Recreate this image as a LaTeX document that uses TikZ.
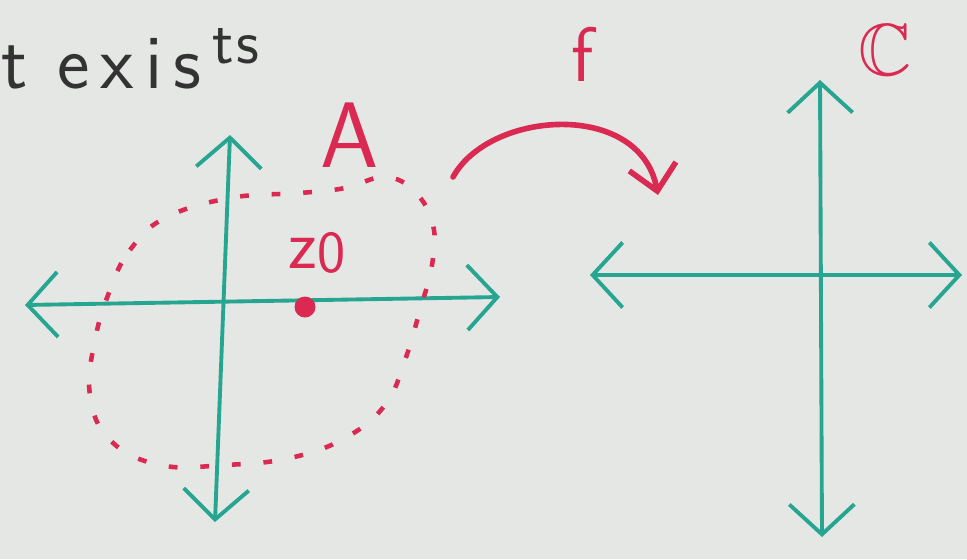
\documentclass[tikz,border=0pt]{standalone}
\usepackage{amssymb}
\usetikzlibrary{arrows.meta}
\definecolor{lavagna}{RGB}{229,231,229}
\definecolor{verdeasse}{RGB}{38,165,145}
\definecolor{rossoped}{RGB}{218,42,82}
\newcommand{\spaz}{\kern0.22cm}

\begin{document}
\begin{tikzpicture}[
  x=0.02cm, y=-0.02cm,
  font=\sffamily,
  asse/.style={draw=verdeasse, line width=2.2pt,
               {Straight Barb[length=0.6cm,width=1.3cm]}-{Straight Barb[length=0.6cm,width=1.3cm]}},
  scritta/.style={inner sep=0pt, text=black!80},
  rossa/.style={inner sep=0pt, text=rossoped},
  tratteggio/.style={draw=rossoped, line width=2.6pt, dash pattern=on 5pt off 13pt},
  freccia/.style={draw=rossoped, line width=3.2pt, line cap=round,
                  -{Straight Barb[length=0.5cm,width=0.95cm]}},
  punto/.style={circle, fill=rossoped, inner sep=0pt, minimum size=0.42cm}
]

%--------------------------------------------------------------
% Sfondo
%--------------------------------------------------------------
\fill[lavagna] (0,0) rectangle (967,559);
\useasboundingbox (0,0) rectangle (967,559);

%--------------------------------------------------------------
% Scritta in alto
%--------------------------------------------------------------
\node[scritta, anchor=base west, font=\sffamily\fontsize{44}{46}\selectfont] (esiste) at (1,88)
  {t\kern0.6cm e\spaz x\spaz i\spaz s\spaz\raisebox{0.5cm}{\fontsize{36}{38}\selectfont t\kern0.05cm s}};

%--------------------------------------------------------------
% Piano di partenza con l'insieme A
%--------------------------------------------------------------
\coordinate (sxO) at (25,305);
\coordinate (sxE) at (500,297);
\coordinate (sxN) at (230,135);
\coordinate (sxS) at (215,522);
\draw[asse] (sxO) -- (sxE);
\draw[asse] (sxN) -- (sxS);

\draw[tratteggio] plot[smooth cycle, tension=0.7] coordinates {
  (110,290) (130,250) (165,218) (230,198) (300,193) (345,188) (385,177)
  (415,192) (433,225) (432,265) (420,310) (405,360) (385,405) (345,438)
  (290,458) (225,465) (160,465) (110,440) (90,395) (95,340)};

\node[rossa, font=\sffamily\fontsize{53}{55}\selectfont] (insA) at (350,135) {A};
\node[punto] (zzero) at (305,307) {};
\node[rossa, anchor=base west, font=\sffamily\fontsize{40}{42}\selectfont] (zlab) at (288,268)
  {z\raisebox{-0.08cm}{\fontsize{34}{36}\selectfont 0}};

%--------------------------------------------------------------
% La funzione f
%--------------------------------------------------------------
\node[rossa, font=\sffamily\fontsize{44}{46}\selectfont] (effe) at (583,54) {f};
\coordinate (fpart) at (453,177);
\coordinate (farr) at (658,195);
\draw[freccia] (fpart) .. controls (490,110) and (640,100) .. (farr);

%--------------------------------------------------------------
% Piano di arrivo
%--------------------------------------------------------------
\coordinate (dxO) at (590,275);
\coordinate (dxE) at (962,275);
\coordinate (dxN) at (820,80);
\coordinate (dxS) at (822,537);
\draw[asse] (dxO) -- (dxE);
\draw[asse] (dxN) -- (dxS);

\node[rossa, anchor=base, font=\fontsize{42}{44}\selectfont] (compl) at (885,75) {$\mathbb{C}$};

\end{tikzpicture}
\end{document}
